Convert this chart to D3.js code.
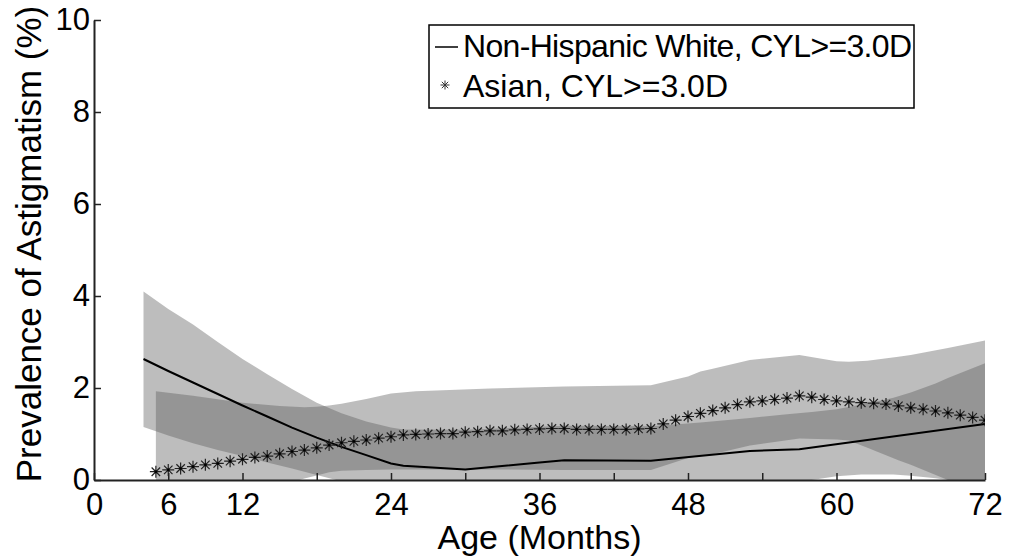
<!DOCTYPE html>
<html><head><meta charset="utf-8">
<script src="https://cdn.jsdelivr.net/npm/d3@7"></script>
<style>
body{margin:0;background:#fff;}
text{font-family:"Liberation Sans",Arial,Helvetica,sans-serif;fill:#000;}
</style>
</head><body><svg id="c" width="1013" height="560"></svg>
<script>
// ---------- data ----------
const xTicks = [0,6,12,18,24,30,36,42,48,54,60,66,72];
const xTickLabels = ["0","6","12","","24","","36","","48","","60","","72"];
const yTicks = [0,2,4,6,8,10];
const yTickLabels = ["0","2","4","6","8","10"];

// Non-Hispanic White: mean curve
const whiteMonths = [4,6,8,10,12,14,16,18,20,22,24,25,30,36,38,45,53,57,72];
const whiteMean   = [2.63,2.37,2.12,1.87,1.62,1.38,1.14,0.92,0.72,0.54,0.36,0.31,0.23,0.38,0.43,0.42,0.63,0.67,1.22];
// Non-Hispanic White: confidence band
const whiteBandMonths = [4,6,8,10,12,14,16,18,20,22,24,25,30,38,45,49,53,56,58,60,62,64,64.6,66,68,69,72];
const whiteUpper = [4.10,3.72,3.38,3.00,2.63,2.30,1.98,1.68,1.45,1.27,1.14,1.10,1.09,1.18,1.17,1.25,1.35,1.43,1.48,1.54,1.64,1.75,1.79,1.90,2.10,2.22,2.54];
const whiteLower = [1.15,0.97,0.80,0.65,0.52,0.38,0.25,0.11,-0.03,-0.15,-0.25,-0.28,-0.30,-0.25,-0.20,-0.12,-0.06,-0.02,0.00,0.08,0.12,0.12,0.12,0.09,0.04,0.00,-0.20];

// Asian: mean (one marker per month, 5..72)
const asianMonths = d3.range(5,73);
const asianMean = [0.18,0.22,0.25,0.29,0.33,0.36,0.41,0.45,0.49,0.52,0.57,0.62,0.65,0.70,0.76,0.81,0.84,
  0.87,0.91,0.94,0.98,0.99,1.00,1.01,1.01,1.04,1.05,1.07,1.07,1.09,1.10,1.11,1.12,1.12,
  1.10,1.10,1.10,1.10,1.10,1.11,1.12,1.22,1.30,1.38,1.45,1.51,1.57,1.64,1.70,1.72,1.75,
  1.78,1.83,1.80,1.75,1.72,1.70,1.68,1.67,1.65,1.61,1.57,1.54,1.50,1.46,1.41,1.36,1.30];
// Asian: confidence band
const asianBandMonths = [5,8,12,15,17,18,19,20,22,24,26,32,38,45,48,49,50,53,57,60,61,62.5,65,66,69,72];
const asianUpper = [1.93,1.83,1.68,1.61,1.58,1.59,1.62,1.66,1.76,1.88,1.93,1.99,2.03,2.06,2.25,2.36,2.42,2.61,2.72,2.58,2.57,2.59,2.68,2.72,2.87,3.03];
const asianLower = [-0.60,-0.45,-0.28,-0.12,0.03,0.10,0.17,0.20,0.22,0.23,0.23,0.23,0.22,0.22,0.48,0.52,0.56,0.75,0.90,0.88,0.86,0.70,0.43,0.33,0.00,-0.35];

const legendLabels = ["Non-Hispanic White, CYL>=3.0D","Asian, CYL>=3.0D"];

// ---------- chart ----------
const svg = d3.select("#c");
const x = d3.scaleLinear().domain([0,72]).range([94,985]);
const y = d3.scaleLinear().domain([0,10]).range([480,20]);

svg.append("defs").append("clipPath").attr("id","plot")
  .append("rect").attr("x",94).attr("y",20).attr("width",891).attr("height",460);

const g = svg.append("g").attr("clip-path","url(#plot)");

const area = (ms, lo, hi) => d3.area()
  .x((d,i)=>x(ms[i])).y0((d,i)=>y(lo[i])).y1((d,i)=>y(hi[i]))(ms);

g.append("path").attr("d", area(whiteBandMonths, whiteLower, whiteUpper))
  .attr("fill","#5a5a5a").attr("fill-opacity",0.4);
g.append("path").attr("d", area(asianBandMonths, asianLower, asianUpper))
  .attr("fill","#5a5a5a").attr("fill-opacity",0.4);

const line = d3.line().x((d,i)=>x(whiteMonths[i])).y((d,i)=>y(whiteMean[i]));
g.append("path").attr("d", line(whiteMonths)).attr("fill","none")
  .attr("stroke","#000").attr("stroke-width",2);

function asterisk(cx, cy, r){
  const d = r*0.7071;
  return `M${cx-r},${cy}L${cx+r},${cy}M${cx},${cy-r}L${cx},${cy+r}`+
         `M${cx-d},${cy-d}L${cx+d},${cy+d}M${cx-d},${cy+d}L${cx+d},${cy-d}`;
}
const mk = g.append("g");
mk.selectAll("path").data(asianMonths).join("path")
  .attr("d",(m,i)=>asterisk(x(m), y(asianMean[i]), 6))
  .attr("fill","none").attr("stroke","#222").attr("stroke-width",1.2);
mk.selectAll("circle").data(asianMonths).join("circle")
  .attr("cx",m=>x(m)).attr("cy",(m,i)=>y(asianMean[i])).attr("r",1.3).attr("fill","#000");

// axes
const xAxis = d3.axisBottom(x).tickValues(xTicks)
  .tickFormat((d,i)=>xTickLabels[i]).tickSize(-7).tickSizeOuter(0).tickPadding(13);
const gx = svg.append("g").attr("transform","translate(0,480)").call(xAxis);
const yAxis = d3.axisLeft(y).tickValues(yTicks)
  .tickFormat((d,i)=>yTickLabels[i]).tickSize(-7).tickSizeOuter(0).tickPadding(4);
const gy = svg.append("g").attr("transform","translate(94,0)").call(yAxis);
[gx,gy].forEach(a=>{
  a.select(".domain").attr("stroke","#222").attr("stroke-width",2);
  a.selectAll(".tick line").attr("stroke","#222").attr("stroke-width",1.5);
  a.selectAll(".tick text").attr("font-size",31).attr("font-family","Liberation Sans, Arial, sans-serif").attr("fill","#000");
});

svg.append("text").attr("x",539.5).attr("y",549).attr("text-anchor","middle")
  .attr("font-size",34).text("Age (Months)");
svg.append("text").attr("transform","translate(41,244) rotate(-90)").attr("text-anchor","middle")
  .attr("font-size",35).text("Prevalence of Astigmatism (%)");

// legend
const lg = svg.append("g");
lg.append("rect").attr("x",429).attr("y",25).attr("width",485).attr("height",83)
  .attr("fill","#fff").attr("stroke","#000").attr("stroke-width",1.5);
lg.append("line").attr("x1",435).attr("x2",458).attr("y1",47).attr("y2",47)
  .attr("stroke","#000").attr("stroke-width",1.5);
lg.append("path").attr("d",asterisk(445,85,4.5)).attr("stroke","#333").attr("stroke-width",1).attr("fill","none");
lg.append("text").attr("x",463).attr("y",57).attr("font-size",32).attr("textLength",449).text(legendLabels[0]);
lg.append("text").attr("x",463).attr("y",97).attr("font-size",32).attr("textLength",265).text(legendLabels[1]);
</script>
</body></html>
